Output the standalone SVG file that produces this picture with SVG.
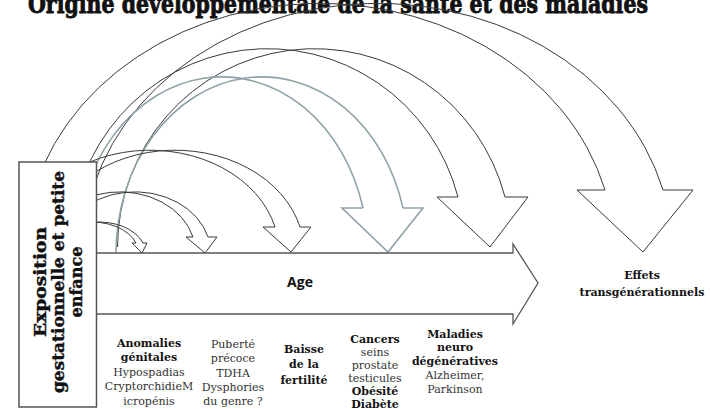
<svg xmlns="http://www.w3.org/2000/svg" width="710" height="409" viewBox="0 0 710 409">
<style>
.arc{fill:none;stroke:#3a3a3a;stroke-width:1}
.gray{fill:none;stroke:#8fa3a8;stroke-width:1.6}
.hd{font-family:"DejaVu Serif","Liberation Serif",serif;font-weight:bold;fill:#111}
.tx{font-family:"DejaVu Serif","Liberation Serif",serif;fill:#333;font-size:11px}
.b{font-weight:bold;fill:#111}
</style>
<rect width="710" height="409" fill="#fff"/>
<text class="hd" x="338" y="13" font-size="26" text-anchor="middle" textLength="620" lengthAdjust="spacingAndGlyphs" stroke="#111" stroke-width="0.9">Origine développementale de la santé et des maladies</text>
<g id="connectors">
<g id="arrow6">
<path class="arc" d="M25,252 A294.7,249 0 0 1 605,190"/>
<path class="arc" d="M83,252 A294.7,249 0 0 1 663,190"/>
<path class="arc" d="M605,190 L577,190 L643,252 L693,190 L663,190"/>
</g>
<g id="arrow5">
<path class="arc" d="M70.5,247 A197,199 0 0 1 458,197"/>
<path class="arc" d="M117.5,247 A197,199 0 0 1 505,197"/>
<path class="arc" d="M458,197 L437,197 L490,247 L528,197 L505,197"/>
</g>
<g id="arrow4">
<path class="gray" d="M76,252 A146,177 0 0 1 363,208"/>
<path class="gray" d="M116,252 A146,177 0 0 1 403,208"/>
<path class="gray" d="M363,208 L342,208 L388,252 L423,208 L403,208"/>
</g>
<g id="arrow3">
<path class="arc" d="M21,252 A129,102 0 0 1 275,227"/>
<path class="arc" d="M46,252 A129,102 0 0 1 300,227"/>
<path class="arc" d="M275,227 L263,227 L291,252 L311,227 L300,227"/>
</g>
<g id="arrow2">
<path class="arc" d="M44.4,253 A75.6,61 0 0 1 193,237"/>
<path class="arc" d="M59.4,253 A75.6,61 0 0 1 208,237"/>
<path class="arc" d="M193,237 L186,237 L205,253 L217,237 L208,237"/>
</g>
<g id="arrow1">
<path class="arc" d="M45.5,253 A46.5,31 0 0 1 136,243"/>
<path class="arc" d="M52.5,253 A46.5,31 0 0 1 143,243"/>
<path class="arc" d="M136,243 L132,243 L142,253 L147,243 L143,243"/>
</g>
</g>
<g id="age">
<path d="M90,253 H513 V244 L538,283 L513,324 V314 H90 Z" fill="#fff" stroke="#555" stroke-width="1.3"/>
<text x="300" y="287" font-family="'Open Sans','Liberation Sans',sans-serif" font-weight="bold" font-size="14" fill="#111" text-anchor="middle">Age</text>
</g>
<g id="exposition">
<rect x="19" y="162" width="77.5" height="245" fill="#fff" stroke="#555" stroke-width="1.5"/>
<g transform="translate(0,282) rotate(-90)" class="hd" font-size="16" text-anchor="middle" stroke="#111" stroke-width="0.4">
<text x="0" y="46" textLength="110" lengthAdjust="spacingAndGlyphs">Exposition</text>
<text x="0" y="64" textLength="222" lengthAdjust="spacingAndGlyphs">gestationnelle et petite</text>
<text x="0" y="82" textLength="71" lengthAdjust="spacingAndGlyphs">enfance</text>
</g>
</g>
<g id="anomalies" class="tx" text-anchor="middle">
<text x="149" y="347" class="b">Anomalies</text>
<text x="149" y="361" class="b">génitales</text>
<text x="149" y="376">Hypospadias</text>
<text x="149" y="390">CryptorchidieM</text>
<text x="149" y="405">icropénis</text>
</g>
<g id="puberte" class="tx" text-anchor="middle">
<text x="233" y="348">Puberté</text>
<text x="233" y="362">précoce</text>
<text x="233" y="377">TDHA</text>
<text x="233" y="391">Dysphories</text>
<text x="233" y="405">du genre ?</text>
</g>
<g id="fertilite" class="tx" text-anchor="middle">
<text x="304" y="353" class="b">Baisse</text>
<text x="304" y="368" class="b">de la</text>
<text x="304" y="384" class="b">fertilité</text>
</g>
<g id="cancers" class="tx" text-anchor="middle">
<text x="375" y="343" class="b">Cancers</text>
<text x="375" y="356">seins</text>
<text x="375" y="369">prostate</text>
<text x="375" y="382">testicules</text>
<text x="375" y="395" class="b">Obésité</text>
<text x="375" y="408" class="b">Diabète</text>
</g>
<g id="maladies" class="tx" text-anchor="middle">
<text x="455" y="338" class="b">Maladies</text>
<text x="455" y="351" class="b">neuro</text>
<text x="455" y="365" class="b">dégénératives</text>
<text x="455" y="379">Alzheimer,</text>
<text x="455" y="393">Parkinson</text>
</g>
<g id="effets" class="tx" text-anchor="middle">
<text x="642" y="279" class="b">Effets</text>
<text x="642" y="296" class="b">transgénérationnels</text>
</g>
</svg>
